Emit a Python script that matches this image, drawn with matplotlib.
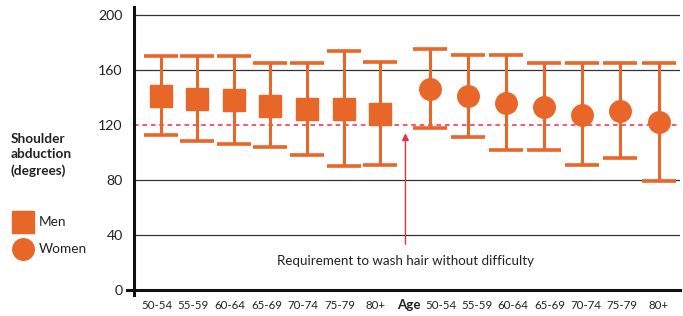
import numpy as np
import matplotlib
matplotlib.use('Agg')
import matplotlib.pyplot as plt
from matplotlib.lines import Line2D

plt.rcParams['font.family'] = ['Lato', 'DejaVu Sans']

age_groups = ['50-54', '55-59', '60-64', '65-69', '70-74', '75-79', '80+']
men_mean = [141, 139, 138, 134, 132, 132, 128]
men_low = [113, 108, 106, 104, 98, 90, 91]
men_high = [170, 170, 170, 165, 165, 174, 166]
women_mean = [146, 141, 136, 133, 127, 130, 122]
women_low = [118, 111, 102, 102, 91, 96, 79]
women_high = [175, 171, 171, 165, 165, 165, 165]
requirement = 120
y_ticks = [0, 40, 80, 120, 160, 200]

ORANGE = '#E86628'
RED = '#EE2E45'
TXT = '#222222'

fig = plt.figure(figsize=(6.83, 3.16), dpi=100)
ax = fig.add_axes([0.196, 0.066, 0.8, 0.912])

# layout: men group, "Age" label, women group
n = len(age_groups)
men_x = np.arange(n) * 0.98
women_x = 7.2 + np.arange(n) * 1.02
# tick labels sit on their own evenly spaced row
men_lab_x = -0.1 + np.arange(n) * 0.977
age_lab_x = 6.64
women_lab_x = 7.49 + np.arange(n) * 0.971


def draw_series(x, mean, low, high, marker):
    mean = np.array(mean)
    yerr = [mean - np.array(low), np.array(high) - mean]
    ax.errorbar(x, mean, yerr=yerr, fmt=marker, color=ORANGE, ecolor=ORANGE,
                markersize=15.5, elinewidth=2.2, capsize=12, capthick=2.6, zorder=5)


draw_series(men_x, men_mean, men_low, men_high, 's')
draw_series(women_x, women_mean, women_low, women_high, 'o')

# grid + requirement line
for yv in [40, 80, 160, 200]:
    ax.axhline(yv, color='#333333', lw=0.9, zorder=1)
ax.axhline(requirement, color=RED, lw=1.1, ls=(0, (3, 2.5)), zorder=2)
ax.axhline(0, xmin=-0.012, color='#111111', lw=2.2, zorder=3, clip_on=False)

ax.annotate('', xy=(6.55, 116), xytext=(6.55, 31),
            arrowprops=dict(arrowstyle='-|>', color=RED, lw=1.0,
                            mutation_scale=10))
ax.text(6.55, 21, 'Requirement to wash hair without difficulty',
        ha='center', va='center', fontsize=9.6, color=TXT)

ax.set_xlim(-0.714, 13.9)
ax.set_ylim(-4, 206)
ax.set_yticks(y_ticks)
ax.tick_params(axis='y', length=0, pad=8, labelsize=10.2, labelcolor=TXT)

xt = list(men_lab_x) + [age_lab_x] + list(women_lab_x)
xl = age_groups + ['Age'] + age_groups
ax.set_xticks(xt, xl)
ax.tick_params(axis='x', length=0, pad=10, labelsize=8.3, labelcolor=TXT)
for lab in ax.get_xticklabels():
    lab.set_verticalalignment('baseline')
    if lab.get_text() == 'Age':
        lab.set_fontweight('bold')
        lab.set_fontsize(9.6)

for s in ['top', 'right', 'bottom']:
    ax.spines[s].set_visible(False)
ax.spines['left'].set_linewidth(2.2)
ax.spines['left'].set_color('#111111')

fig.text(0.016, 0.51, 'Shoulder\nabduction\n(degrees)', fontsize=9.8, fontweight='bold',
         ha='left', va='center', linespacing=1.35, color=TXT)

# legend drawn by hand in figure coordinates
for yy, mk, name in [(0.298, 's', 'Men'), (0.213, 'o', 'Women')]:
    fig.add_artist(Line2D([0.033], [yy], marker=mk, ls='', color=ORANGE,
                          markersize=15.5, transform=fig.transFigure))
    fig.text(0.057, yy, name, fontsize=9.8, ha='left', va='center', color=TXT)

fig.savefig('out.png', dpi=100)
